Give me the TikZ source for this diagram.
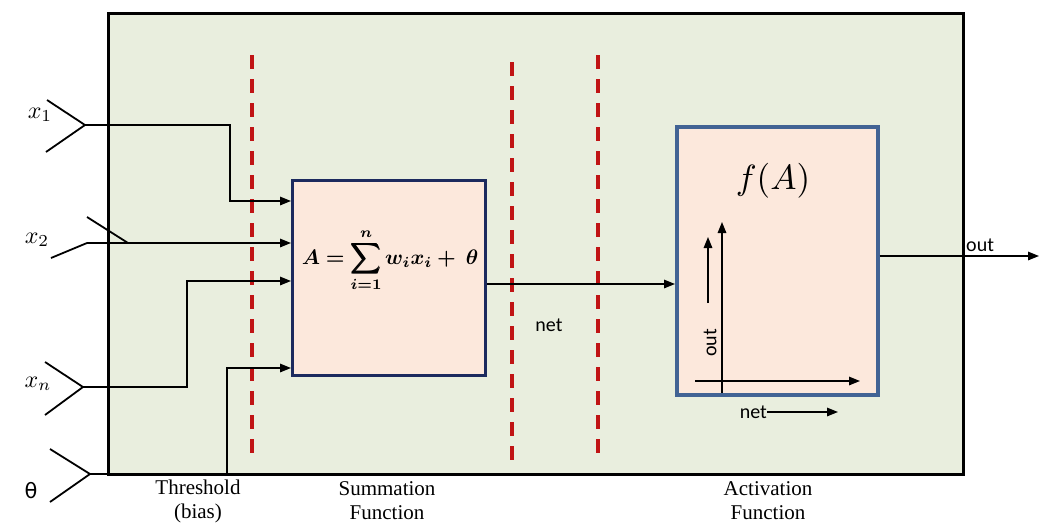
\documentclass[tikz,border=0pt]{standalone}
\usepackage{amsmath,bm}
\usepackage{fontspec}
\setmainfont{Liberation Serif}
\setsansfont{Carlito}
\newfontfamily\thetafont{DejaVu Sans}
\usetikzlibrary{arrows.meta}
\definecolor{bgc}{RGB}{233,238,222}
\definecolor{peach}{RGB}{252,232,220}
\definecolor{navy}{RGB}{28,42,94}
\definecolor{steel}{RGB}{66,99,148}
\definecolor{redd}{RGB}{192,20,20}
\tikzset{
  conn/.style={line width=1.5pt, draw=black},
  arr/.style={conn, -{Triangle[length=11pt,width=8.5pt]}},
  chev/.style={line width=1.8pt, draw=black},
  reddash/.style={line width=3.5pt, draw=redd, dash pattern=on 14pt off 10pt},
  lbl/.style={font=\fontsize{21}{24}\selectfont, align=center, inner sep=0pt},
  sanslbl/.style={font=\sffamily\fontsize{20}{22}\selectfont, inner sep=0pt},
  xlbl/.style={inner sep=0pt, scale=2.4, transform shape}
}
\begin{document}
\begin{tikzpicture}[x=1pt,y=-1pt]
\useasboundingbox (0,0) rectangle (1039,525);
% outer frame
\node[draw=black, line width=3pt, fill=bgc, minimum width=855pt, minimum height=461pt, anchor=north west, inner sep=0pt] (frame) at (107,12) {};
% red dashed lines
\draw[reddash] (252,55) coordinate (d1a) -- (252,458) coordinate (d1b);
\draw[reddash] (512,62) coordinate (d2a) -- (512,462) coordinate (d2b);
\draw[reddash] (598,55) coordinate (d3a) -- (598,458) coordinate (d3b);
% boxes
\node[draw=navy, line width=3pt, fill=peach, minimum width=193pt, minimum height=195pt, anchor=north west, inner sep=0pt] (sum) at (291,179) {};
\node[inner sep=0pt, scale=2.1, transform shape] (formula) at (390,260) {$\displaystyle\bm{A=\sum_{i=1}^{n} w_i x_i +\ \theta}$};
\node[draw=steel, line width=3.5pt, fill=peach, minimum width=201pt, minimum height=268pt, anchor=north west, inner sep=0pt] (act) at (675,125) {};
\node[inner sep=0pt, scale=3.5, transform shape] (fA) at (773,181) {$f(A)$};
% activation inner axes
\coordinate (vax0) at (722,393);
\coordinate (vax1) at (722,222);
\coordinate (hax0) at (695,381);
\coordinate (hax1) at (860,381);
\draw[arr] (vax0) -- (vax1);
\draw[arr] (hax0) -- (hax1);
\coordinate (sa0) at (708,303);
\coordinate (sa1) at (708,237);
\draw[arr] (sa0) -- (sa1);
\node[sanslbl, rotate=90] (outy) at (710,343) {out};
\node[sanslbl, anchor=east] (netx) at (767,412) {net};
\coordinate (netarr) at (838,412);
\draw[arr] (netx.east) -- (netarr);
% inputs
\coordinate (t1) at (85,125);
\draw[chev] (47,100) -- (t1) -- (46,152);
\node[xlbl] (lx1) at (40,115) {$x_1$};
\coordinate (c1) at (230,125);
\coordinate (c1b) at (230,201);
\draw[arr] (t1) -- (c1) -- (c1b) -- (sum.west |- c1b);

\coordinate (t2) at (87,243);
\draw[chev] (51,258) -- (t2);
\draw[chev] (87,217) -- (128,243);
\node[xlbl] (lx2) at (37,240) {$x_2$};
\draw[arr] (t2) -- (sum.west |- t2);

\coordinate (tn) at (83,387);
\draw[chev] (45,362) -- (tn) -- (45,415);
\node[xlbl] (lxn) at (38,384) {$x_n$};
\coordinate (cn) at (187,387);
\coordinate (cnb) at (187,281);
\draw[arr] (tn) -- (cn) -- (cnb) -- (sum.west |- cnb);

\coordinate (tt) at (90,474);
\draw[chev] (50,449) -- (tt) -- (50,502);
\node[font=\thetafont\fontsize{21}{23}\selectfont, inner sep=0pt] (lth) at (31,491) {θ};
\coordinate (ct) at (227,474);
\coordinate (ctb) at (227,368);
\draw[arr] (tt) -- (ct) -- (ctb) -- (sum.west |- ctb);

% net
\draw[arr] (sum.east |- 0,284) -- (act.west |- 0,284);
\node[sanslbl] (netlbl) at (549,325) {net};
% out
\coordinate (outend) at (1039,256);
\draw[arr] (act.east |- outend) -- (outend);
\node[sanslbl, anchor=south west] (outlbl) at (966,252) {out};
% bottom labels
\node[lbl] (thr) at (198,501) {Threshold\\(bias)};
\node[lbl] (sumf) at (387,501) {Summation\\Function};
\node[lbl] (actf) at (768,501) {Activation\\Function};
\end{tikzpicture}
\end{document}
